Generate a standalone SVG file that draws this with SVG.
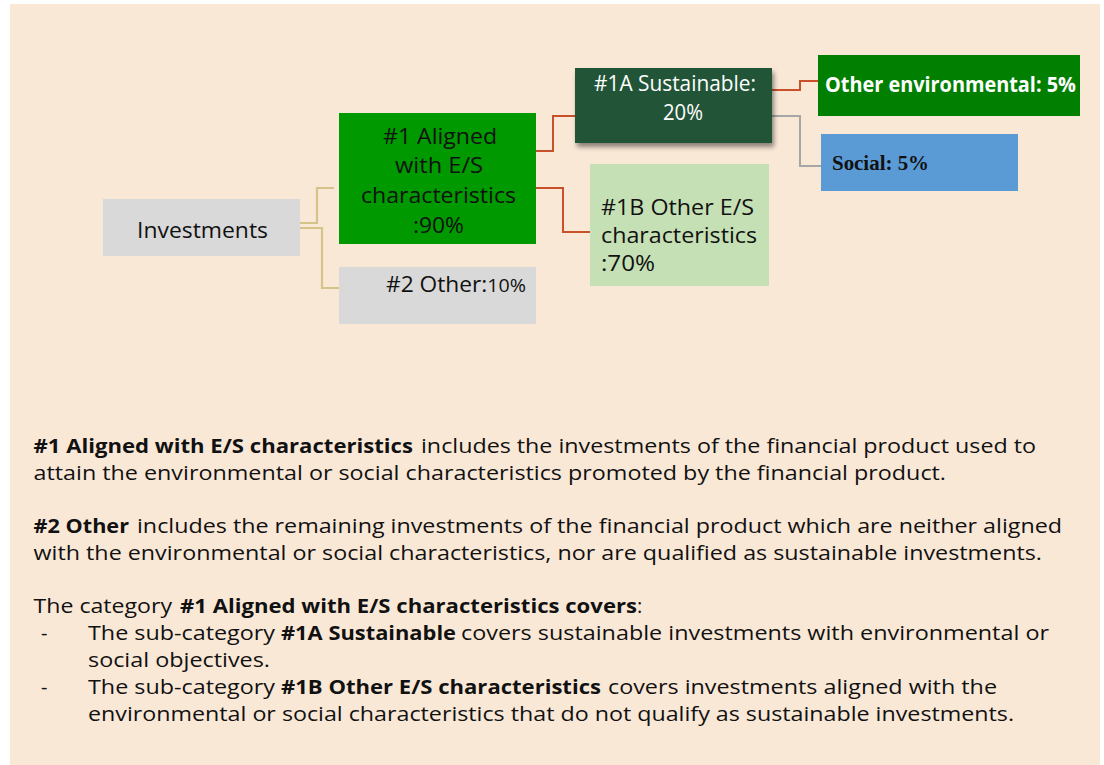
<svg xmlns="http://www.w3.org/2000/svg" width="1104" height="765" viewBox="0 0 1104 765">
<style>
.t{font-family:"Open Sans","Noto Sans","Liberation Sans",sans-serif;font-size:20px;fill:#111;}
.b{font-weight:bold;}
.n{font-family:"Open Sans","Noto Sans","Liberation Sans",sans-serif;font-size:22px;fill:#111;}
.w{fill:#fff;}
.lt{fill:none;stroke:#D4C48A;stroke-width:2.2;}
.lr{fill:none;stroke:#C8502A;stroke-width:2;}
.lg{fill:none;stroke:#A6A6A6;stroke-width:2;}
</style>
<defs>
<filter id="sh" x="-10%" y="-10%" width="130%" height="140%">
<feGaussianBlur in="SourceAlpha" stdDeviation="2.5"/>
<feOffset dx="2" dy="4" result="o"/>
<feComponentTransfer><feFuncA type="linear" slope="0.45"/></feComponentTransfer>
<feMerge><feMergeNode/><feMergeNode in="SourceGraphic"/></feMerge>
</filter>
</defs>
<rect x="0" y="0" width="1104" height="765" fill="#fff"/>
<rect x="10" y="4" width="1090" height="761" fill="#FAE8D7"/>

<g id="connectors">
<path class="lt" d="M300,223 H317 V188 H334"/>
<path class="lt" d="M300,228 H322 V288 H339"/>
<path class="lr" d="M536,151 H553 V116 H575"/>
<path class="lr" d="M536,188 H563 V232 H590"/>
<path class="lr" d="M772,90 H800 V81 H818"/>
<path class="lg" d="M772,116 H800 V166 H821"/>
</g>

<g id="investments">
<rect x="103" y="199" width="197" height="57" fill="#D9D9D9"/>
<text class="n" x="137" y="238" font-size="23" textLength="131" lengthAdjust="spacingAndGlyphs">Investments</text>
</g>

<g id="aligned">
<rect x="339" y="113" width="197" height="131" fill="#009900"/>
<text class="n" x="383" y="144" textLength="114" lengthAdjust="spacingAndGlyphs">#1 Aligned</text>
<text class="n" x="395" y="173" textLength="88" lengthAdjust="spacingAndGlyphs">with E/S</text>
<text class="n" x="361" y="203" textLength="155" lengthAdjust="spacingAndGlyphs">characteristics</text>
<text class="n" x="413" y="233" textLength="51" lengthAdjust="spacingAndGlyphs">:90%</text>
</g>

<g id="other2">
<rect x="339" y="267" width="197" height="57" fill="#D9D9D9"/>
<text class="n" x="386" y="292" font-size="21" textLength="140" lengthAdjust="spacingAndGlyphs">#2 Other:<tspan font-size="19">10%</tspan></text>
</g>

<g id="sustainable">
<rect x="575" y="68" width="197" height="75" fill="#245439" filter="url(#sh)"/>
<text class="n w" x="594" y="91" font-size="18.5" textLength="162" lengthAdjust="spacingAndGlyphs">#1A Sustainable:</text>
<text class="n w" x="663" y="120" font-size="18.5" textLength="40" lengthAdjust="spacingAndGlyphs">20%</text>
</g>

<g id="otherES">
<rect x="590" y="164" width="179" height="122" fill="#C5E0B4"/>
<text class="n" x="601" y="215" textLength="153" lengthAdjust="spacingAndGlyphs">#1B Other E/S</text>
<text class="n" x="601" y="243" textLength="156" lengthAdjust="spacingAndGlyphs">characteristics</text>
<text class="n" x="601" y="271" textLength="54" lengthAdjust="spacingAndGlyphs">:70%</text>
</g>

<g id="otherenv">
<rect x="818" y="55" width="262" height="61" fill="#007F00"/>
<text class="n w b" x="825" y="92" font-size="20" textLength="251" lengthAdjust="spacingAndGlyphs">Other environmental: 5%</text>
</g>

<g id="social">
<rect x="821" y="134" width="197" height="57" fill="#5B9BD5"/>
<text x="832" y="170" font-family="'Liberation Serif','Times New Roman',serif" font-weight="bold" font-size="20" fill="#111" textLength="97" lengthAdjust="spacingAndGlyphs">Social: 5%</text>
</g>

<g id="description">
<text class="t b" x="33.5" y="453" textLength="379.5" lengthAdjust="spacingAndGlyphs">#1 Aligned with E/S characteristics</text>
<text class="t" x="421" y="453" textLength="615" lengthAdjust="spacingAndGlyphs">includes the investments of the financial product used to</text>
<text class="t" x="33.5" y="480" textLength="912.5" lengthAdjust="spacingAndGlyphs">attain the environmental or social characteristics promoted by the financial product.</text>

<text class="t b" x="33.5" y="533" textLength="95.5" lengthAdjust="spacingAndGlyphs">#2 Other</text>
<text class="t" x="137" y="533" textLength="925" lengthAdjust="spacingAndGlyphs">includes the remaining investments of the financial product which are neither aligned</text>
<text class="t" x="33.5" y="560" textLength="1008.5" lengthAdjust="spacingAndGlyphs">with the environmental or social characteristics, nor are qualified as sustainable investments.</text>

<text class="t" x="33.5" y="613" textLength="138.5" lengthAdjust="spacingAndGlyphs">The category</text>
<text class="t b" x="180" y="613" textLength="457" lengthAdjust="spacingAndGlyphs">#1 Aligned with E/S characteristics covers</text>
<text class="t" x="637" y="613">:</text>

<text class="t" x="41" y="640">-</text>
<text class="t" x="88" y="640" textLength="187" lengthAdjust="spacingAndGlyphs">The sub-category</text>
<text class="t b" x="281" y="640" textLength="175" lengthAdjust="spacingAndGlyphs">#1A Sustainable</text>
<text class="t" x="461" y="640" textLength="588" lengthAdjust="spacingAndGlyphs">covers sustainable investments with environmental or</text>
<text class="t" x="88" y="667" textLength="182" lengthAdjust="spacingAndGlyphs">social objectives.</text>

<text class="t" x="41" y="694">-</text>
<text class="t" x="88" y="694" textLength="187" lengthAdjust="spacingAndGlyphs">The sub-category</text>
<text class="t b" x="281" y="694" textLength="320" lengthAdjust="spacingAndGlyphs">#1B Other E/S characteristics</text>
<text class="t" x="608" y="694" textLength="389" lengthAdjust="spacingAndGlyphs">covers investments aligned with the</text>
<text class="t" x="88" y="721" textLength="926" lengthAdjust="spacingAndGlyphs">environmental or social characteristics that do not qualify as sustainable investments.</text>
</g>
</svg>
